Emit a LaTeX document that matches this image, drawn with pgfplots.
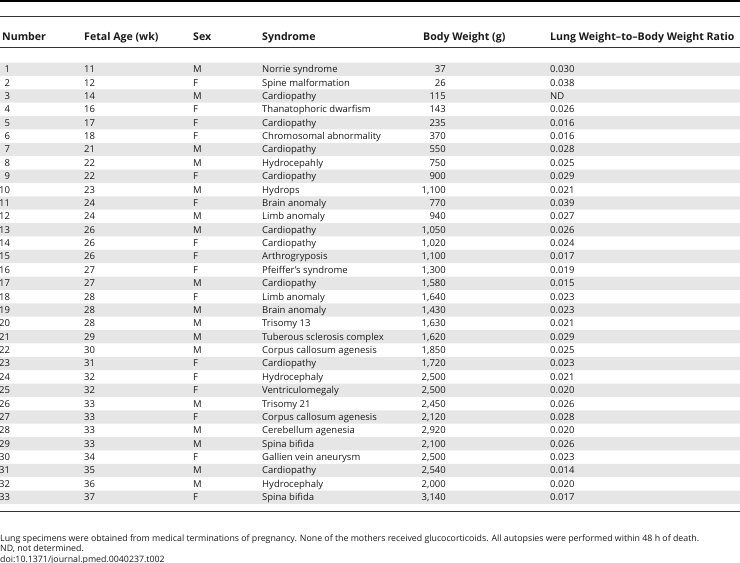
\documentclass[border=0pt]{standalone}
\usepackage{fontspec}
\setmainfont{Open Sans}
\usepackage{pgfplots}
\usepackage{pgfplotstable}
\pgfplotsset{compat=1.18}
\definecolor{band}{HTML}{E6E6E6}
\definecolor{rule}{HTML}{333333}
\definecolor{txt}{HTML}{1A1A1A}

\pgfplotstableread[col sep=semicolon, row sep=\\]{
y;num;age;sex;syn;bw;ratio\\
69.3;1;11;M;Norrie syndrome;37;0.030\\
82.7;2;12;F;Spine malformation;26;0.038\\
96.05;3;14;M;Cardiopathy;115;ND\\
109.4;4;16;F;Thanatophoric dwarfism;143;0.026\\
122.8;5;17;F;Cardiopathy;235;0.016\\
136.2;6;18;F;Chromosomal abnormality;370;0.016\\
149.55;7;21;M;Cardiopathy;550;0.028\\
162.9;8;22;M;Hydrocepahly;750;0.025\\
176.3;9;22;F;Cardiopathy;900;0.029\\
189.7;10;23;M;Hydrops;1,100;0.021\\
203.05;11;24;F;Brain anomaly;770;0.039\\
216.4;12;24;M;Limb anomaly;940;0.027\\
229.8;13;26;M;Cardiopathy;1,050;0.026\\
243.2;14;26;F;Cardiopathy;1,020;0.024\\
256.55;15;26;F;Arthrogryposis;1,100;0.017\\
269.9;16;27;F;Pfeiffer's syndrome;1,300;0.019\\
283.3;17;27;M;Cardiopathy;1,580;0.015\\
296.7;18;28;F;Limb anomaly;1,640;0.023\\
310.05;19;28;M;Brain anomaly;1,430;0.023\\
323.4;20;28;M;Trisomy 13;1,630;0.021\\
336.8;21;29;M;Tuberous sclerosis complex;1,620;0.029\\
350.2;22;30;M;Corpus callosum agenesis;1,850;0.025\\
363.55;23;31;F;Cardiopathy;1,720;0.023\\
376.9;24;32;F;Hydrocephaly;2,500;0.021\\
390.3;25;32;F;Ventriculomegaly;2,500;0.020\\
403.7;26;33;M;Trisomy 21;2,450;0.026\\
417.05;27;33;F;Corpus callosum agenesis;2,120;0.028\\
430.4;28;33;M;Cerebellum agenesia;2,920;0.020\\
443.8;29;33;M;Spina bifida;2,100;0.026\\
457.2;30;34;F;Gallien vein aneurysm;2,500;0.023\\
470.55;31;35;M;Cardiopathy;2,540;0.014\\
483.9;32;36;M;Hydrocephaly;2,000;0.020\\
497.3;33;37;F;Spina bifida;3,140;0.017\\
}\rows

\pgfplotstableread[col sep=semicolon, row sep=\\]{
x;y;label\\
2;36.5;Number\\
84;36.5;Fetal Age (wk)\\
193;36.5;Sex\\
262;36.5;Syndrome\\
423;36.5;Body Weight (g)\\
550;36.5;Lung Weight--to--Body Weight Ratio\\
}\header

\pgfplotstableread[col sep=semicolon, row sep=\\]{
x;y;label\\
0;538;Lung specimens were obtained from medical terminations of pregnancy. None of the mothers received glucocorticoids. All autopsies were performed within 48 h of death.\\
0;548.5;ND, not determined.\\
0;559;doi:10.1371/journal.pmed.0040237.t002\\
}\notes

\pgfplotsset{
  txtW/.style={txt, draw=none, mark=none, forget plot, nodes near coords,
    point meta=explicit symbolic,
    nodes near coords align={anchor=west},
    every node near coord/.append style={inner sep=0pt, text height=6.8pt, text depth=0pt, anchor=west, font=\fontsize{9.5}{11}\selectfont, text=txt}},
  txtE/.style={txt, draw=none, mark=none, forget plot, nodes near coords,
    point meta=explicit symbolic,
    nodes near coords align={anchor=east},
    every node near coord/.append style={inner sep=0pt, text height=6.8pt, text depth=0pt, anchor=east, font=\fontsize{9.5}{11}\selectfont, text=txt}},
}

\begin{document}
\begin{tikzpicture}
\begin{axis}[
  width=740pt, height=563pt, scale only axis,
  xmin=0, xmax=740, ymin=0, ymax=563, y dir=reverse,
  hide axis, clip=false,
]
% zebra bands (odd rows)
\addplot[xbar, bar width=13.375, fill=band, draw=none, forget plot] coordinates {
(740,69.3) (740,96.05) (740,122.8) (740,149.55) (740,176.3) (740,203.05)
(740,229.8) (740,256.55) (740,283.3) (740,310.05) (740,336.8) (740,363.55)
(740,390.3) (740,417.05) (740,443.8) (740,470.55) (740,497.3)};
% rules
\addplot[black, line width=1.8pt, forget plot] coordinates {(0,0.9) (740,0.9)};
\addplot[rule, line width=0.9pt, forget plot] coordinates {(0,16.7) (740,16.7)};
\addplot[rule, line width=0.8pt, forget plot] coordinates {(0,47.7) (740,47.7)};
\addplot[rule, line width=1.3pt, forget plot] coordinates {(0,511.5) (740,511.5)};
% header
\addplot[txtW, every node near coord/.append style={font=\fontsize{10.6}{12}\selectfont\bfseries, text height=7.6pt}] table[x=x, y=y, meta=label] {\header};
% body
\addplot[txtE] table[x expr=10.3, y=y, meta=num] {\rows};
\addplot[txtW] table[x expr=84, y=y, meta=age] {\rows};
\addplot[txtW] table[x expr=193, y=y, meta=sex] {\rows};
\addplot[txtW] table[x expr=262, y=y, meta=syn] {\rows};
\addplot[txtE] table[x expr=446, y=y, meta=bw] {\rows};
\addplot[txtW] table[x expr=550, y=y, meta=ratio] {\rows};
% notes
\addplot[txtW, every node near coord/.append style={font=\fontsize{8.8}{10}\selectfont, text height=6.3pt}] table[x=x, y=y, meta=label] {\notes};
\end{axis}
\pgfresetboundingbox
\path (current axis.south west) rectangle (current axis.north east);
\end{tikzpicture}
\end{document}
